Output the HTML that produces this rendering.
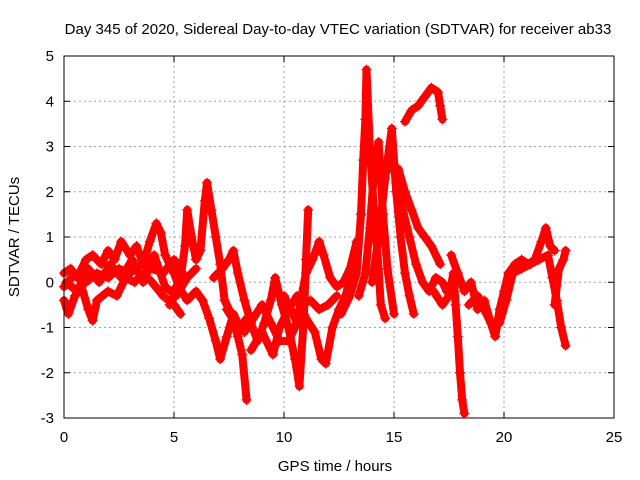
<!DOCTYPE html>
<html><head><meta charset="utf-8"><style>
body{margin:0;background:#fff}
svg{display:block;font-family:"Liberation Sans",sans-serif}
</style></head><body>
<svg id="chart" width="640" height="480">
<rect width="640" height="480" fill="#fff"/>
<text x="338" y="34" text-anchor="middle" font-size="15">Day 345 of 2020, Sidereal Day-to-day VTEC variation (SDTVAR) for receiver ab33</text>
<text x="335" y="471" text-anchor="middle" font-size="15">GPS time / hours</text>
<text transform="translate(19,237) rotate(-90)" text-anchor="middle" font-size="15">SDTVAR / TECUs</text>
<g id="grid"></g>
<g id="ticks"></g>
<g id="marks"></g>
<rect x="64" y="56" width="550" height="362" fill="none" stroke="#000"/>
</svg>
<script>
const xTicks=[0,5,10,15,20,25];
const yTicks=[-3,-2,-1,0,1,2,3,4,5];
const trackA=[[0,0.2],[0.3,0.3],[0.6,0.1],[1,0.5],[1.3,0.6],[1.7,0.4],[2,0.7],[2.3,0.5],[2.6,0.9],[3,0.6],[3.3,0.8],[3.6,0.4],[3.9,0.9],[4.2,1.3],[4.4,1.1],[4.6,0.6],[5,0.2],[5.3,-0.2]];
const trackB=[[0,-0.4],[0.2,-0.7],[0.5,-0.3],[0.8,-0.1],[1.1,-0.6],[1.3,-0.85],[1.5,-0.4],[2,-0.2],[2.4,-0.3],[2.8,0.1],[3.2,0],[3.6,0.2],[4,0],[4.5,-0.3],[5,-0.5],[5.3,-0.7]];
const trackC=[[0,-0.1],[0.5,0.2],[1,0],[1.5,0.2],[2,0.1],[2.5,0.3],[3,0.2],[3.5,0.4],[4,0.3],[4.5,0.2],[5,0.5],[5.4,0.2]];
const trackC2=[[0.1,0.0],[0.6,-0.2],[1.1,0.3],[1.6,0.0],[2.1,0.4],[2.6,0.1],[3.1,0.5],[3.6,0.0],[4.1,0.6],[4.6,-0.1],[5.1,-0.3],[5.6,0.1],[6.0,0.3]];
const trackD=[[5,-0.2],[5.3,0.1],[5.5,0.8],[5.6,1.6],[5.8,1.0],[6,0.5],[6.2,0.7],[6.4,1.8],[6.5,2.2],[6.7,1.6],[6.9,1.0],[7.1,0.4],[7.3,-0.4],[7.6,-0.7],[7.9,-1.2],[8.1,-1.6],[8.3,-2.6]];
const trackE=[[4.8,-0.5],[5.2,-0.1],[5.6,-0.4],[6,-0.2],[6.3,-0.4],[6.6,-0.8],[6.9,-1.3],[7.1,-1.7],[7.4,-1.2],[7.7,-0.7],[8,-1.0],[8.3,-0.8]];
const trackF=[[6.8,0.1],[7.2,0.3],[7.5,0.5],[7.7,0.7],[7.9,0.2],[8.2,-0.4],[8.5,-0.9],[8.8,-1.3],[9.1,-0.9],[9.4,-0.4],[9.6,0.1],[9.9,-0.5],[10.2,-1.0],[10.5,-1.7],[10.7,-2.3],[10.9,-0.8],[11,0.5],[11.1,1.6]];
const trackG=[[8.5,-1.5],[9,-1.1],[9.5,-1.6],[9.8,-1.0],[10.2,-0.6],[10.6,-0.3],[11,-0.8],[11.4,-1.1],[11.7,-1.7],[11.9,-1.8],[12.2,-1.0],[12.5,-0.6],[12.8,-0.3],[13,0.1]];
const trackG2=[[7.4,-0.6],[7.8,-0.9],[8.2,-1.1],[8.6,-0.8],[9,-0.5],[9.4,-0.9],[9.8,-1.3],[10.2,-1.3],[10.5,-1.0],[10.8,-0.5],[11.2,-0.4],[11.6,-0.6],[12,-0.5],[12.4,-0.3]];
const trackH=[[10,-0.3],[10.3,-0.6],[10.6,-0.9],[10.8,-0.3],[11,0.2],[11.3,0.5],[11.6,0.9],[11.8,0.6],[12.1,0.1],[12.4,-0.1],[12.7,0.0],[13,0.3],[13.3,0.9]];
const trackI=[[12.6,-0.7],[13,-0.3],[13.3,0.2],[13.5,1.5],[13.6,2.7],[13.7,3.6],[13.75,4.7],[13.9,3.0],[14.1,1.5],[14.3,0.3],[14.4,-0.5],[14.6,-0.8]];
const trackJ=[[13.4,-0.3],[13.7,0.2],[13.9,1.2],[14.1,2.5],[14.3,3.1],[14.5,1.5],[14.7,0.3],[15,-0.7]];
const trackK=[[14,0.0],[14.3,1.0],[14.6,2.3],[14.9,3.4],[15.1,2.0],[15.3,1.0],[15.5,0.2],[15.7,-0.3],[15.9,-0.7]];
const trackL=[[14.9,2.5],[15.2,2.5],[15.5,2.0],[15.8,1.6],[16.1,1.2],[16.4,1.0],[16.7,0.8],[17.1,0.4]];
const trackM=[[15.1,2.2],[15.4,1.6],[15.7,1.0],[16,0.4],[16.3,0.0],[16.6,-0.2],[16.9,0.1],[17.2,0.0],[17.4,-0.2],[17.7,0.0],[17.9,0.2]];
const trackN=[[15.5,3.55],[15.8,3.8],[16.1,3.9],[16.4,4.1],[16.7,4.3],[17.0,4.2],[17.1,3.9],[17.2,3.6]];
const trackO=[[16.8,-0.2],[17.2,-0.5],[17.5,-0.3],[17.7,0.2],[17.8,-0.5],[17.9,-1.2],[18.0,-2.0],[18.1,-2.6],[18.2,-2.9]];
const trackP=[[17.6,0.6],[17.9,0.2],[18.2,-0.2],[18.5,0.0],[18.8,-0.6],[19.1,-0.4],[19.4,-0.9],[19.6,-1.2],[19.8,-0.6],[20,-0.2],[20.2,0.2],[20.5,0.4],[20.8,0.5],[21.1,0.4],[21.4,0.5],[21.7,0.9],[21.9,1.2],[22.1,0.8],[22.3,0.7]];
const trackQ=[[18.4,-0.5],[18.8,-0.3],[19.2,-0.7],[19.5,-1.0],[19.8,-0.9],[20.1,-0.4],[20.4,0.2],[20.8,0.3],[21.2,0.4],[21.6,0.5],[22,0.6],[22.2,0.1],[22.4,-0.4],[22.6,-1.0],[22.8,-1.4]];
const trackR=[[22.3,-0.5],[22.5,0.3],[22.7,0.5],[22.8,0.7]];
const tracks=[trackA,trackB,trackC,trackC2,trackD,trackE,trackF,trackG,trackG2,trackH,trackI,trackJ,trackK,trackL,trackM,trackN,trackO,trackP,trackQ,trackR];
const NS='http://www.w3.org/2000/svg';
const X0=64,X1=614,Y0=418,Y1=56;
function sx(v){return X0+(v-0)/(25-0)*(X1-X0);}
function sy(v){return Y0-(v-(-3))/(5-(-3))*(Y0-Y1);}
function mk(tag,attrs,parent){const e=document.createElementNS(NS,tag);for(const k in attrs)e.setAttribute(k,attrs[k]);parent.appendChild(e);return e;}
const grid=document.getElementById('grid'),ticks=document.getElementById('ticks'),marks=document.getElementById('marks');
xTicks.forEach(t=>{const x=sx(t);
 if(t>0&&t<25){const g=mk('line',{x1:x,x2:x,y1:Y0,y2:Y1,stroke:'#a0a0a0','stroke-dasharray':'2,3'},grid);
 
 }
 mk('line',{x1:x,x2:x,y1:Y0,y2:Y0-6,stroke:'#000'},ticks);
 mk('line',{x1:x,x2:x,y1:Y1,y2:Y1+6,stroke:'#000'},ticks);
 const l=mk('text',{x:x,y:Y0+24,'text-anchor':'middle','font-size':'15'},ticks);l.textContent=t;
 
 
});
yTicks.forEach(t=>{const y=sy(t);
 if(t>-3&&t<5){const g=mk('line',{x1:X0,x2:X1,y1:y,y2:y,stroke:'#a0a0a0','stroke-dasharray':'2,3'},grid);
 
 }
 mk('line',{x1:X0,x2:X0+6,y1:y,y2:y,stroke:'#000'},ticks);
 mk('line',{x1:X1,x2:X1-6,y1:y,y2:y,stroke:'#000'},ticks);
 const l=mk('text',{x:X0-10,y:y+5,'text-anchor':'end','font-size':'15'},ticks);l.textContent=t;
 
 
});
tracks.forEach(tr=>{
 const pts=tr.map(p=>sx(p[0])+','+sy(p[1])).join(' ');
 const pl=mk('polyline',{points:pts,fill:'none',stroke:'#f00','stroke-width':'8','stroke-linejoin':'round','stroke-linecap':'round'},marks);
 
 
 tr.forEach(p=>{const x=sx(p[0]),y=sy(p[1]);
  const m=mk('path',{d:`M${x-5},${y}H${x+5}M${x},${y-5}V${y+5}`,stroke:'#f00','stroke-width':'1.2'},marks);
  
  
 });
});
</script>
</body></html>
